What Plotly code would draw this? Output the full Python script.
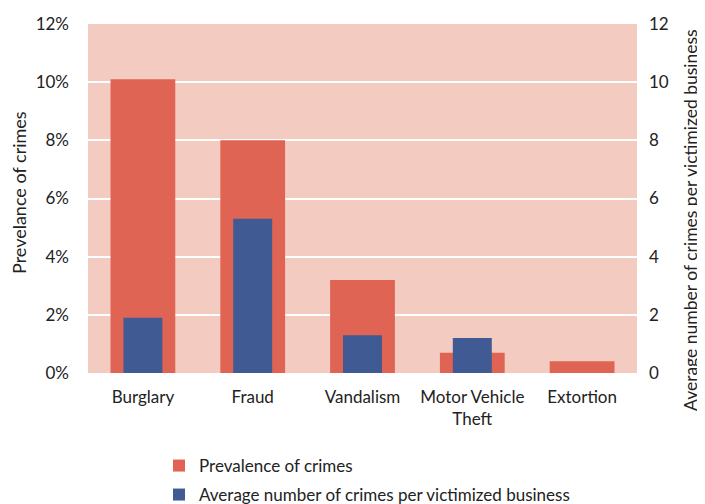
import plotly.graph_objects as go

categories = ["Burglary", "Fraud", "Vandalism", "Motor Vehicle<br>Theft", "Extortion"]
prevalence = [0.101, 0.080, 0.032, 0.007, 0.004]
avg_crimes = [1.9, 5.3, 1.3, 1.2, 0]

RED = "#DF6453"
BLUE = "#405A94"
FONT = "Lato"
FS = 17

# page body has an 8px margin, so figure is a bit smaller and shifted
OFF = 8
W, H = 705 - OFF, 504 - OFF
L, T = 88 - OFF, 24 - OFF
R = W - (637 - OFF)
B = H - (373 - OFF)
PW, PH = W - L - R, H - T - B

def px_x(p):
    return (p - OFF - L) / PW

def px_y(p):
    return (H - B - (p - OFF)) / PH

fig = go.Figure()
fig.add_trace(go.Bar(x=categories, y=prevalence, name="Prevalence of crimes", legend="legend",
                     marker=dict(color=RED, line=dict(width=0)), width=0.59, yaxis="y"))
fig.add_trace(go.Bar(x=categories, y=avg_crimes, name="Average number of crimes per victimized business",
                     legend="legend2",
                     marker=dict(color=BLUE, line=dict(width=0)), width=0.355, yaxis="y2"))

leg_common = dict(orientation="v", xanchor="left", yanchor="top", font=dict(size=FS),
                  itemwidth=30, bgcolor="rgba(0,0,0,0)", maxheight=60)

fig.update_layout(
    width=W, height=H,
    margin=dict(l=L, r=R, t=T, b=B, autoexpand=False),
    paper_bgcolor="white",
    plot_bgcolor="#F4CBC1",
    barmode="overlay",
    showlegend=True,
    font=dict(family=FONT, size=FS, color="#222222"),
    xaxis=dict(showline=False, ticks="", automargin=False, ticklabelstandoff=12),
    yaxis=dict(range=[0, 0.12], dtick=0.02, tickformat=".0%", showgrid=True,
               gridcolor="white", gridwidth=2, zeroline=False, automargin=False,
               ticklabelstandoff=18),
    yaxis2=dict(range=[0, 12], dtick=2, overlaying="y", side="right", showgrid=False,
                zeroline=False, automargin=False, ticklabelstandoff=11),
    legend=dict(x=px_x(159), y=px_y(448), **leg_common),
    legend2=dict(x=px_x(159), y=px_y(477), **leg_common),
    annotations=[
        dict(text="Prevelance of crimes", textangle=-90, xref="paper", yref="paper",
             x=px_x(19), y=px_y(193), showarrow=False, xanchor="center", yanchor="middle",
             font=dict(size=18)),
        dict(text="Average number of crimes per victimized business", textangle=-90,
             xref="paper", yref="paper",
             x=px_x(690), y=px_y(220), showarrow=False, xanchor="center", yanchor="middle",
             font=dict(size=17.5)),
    ],
)
fig.write_html("out.html")
